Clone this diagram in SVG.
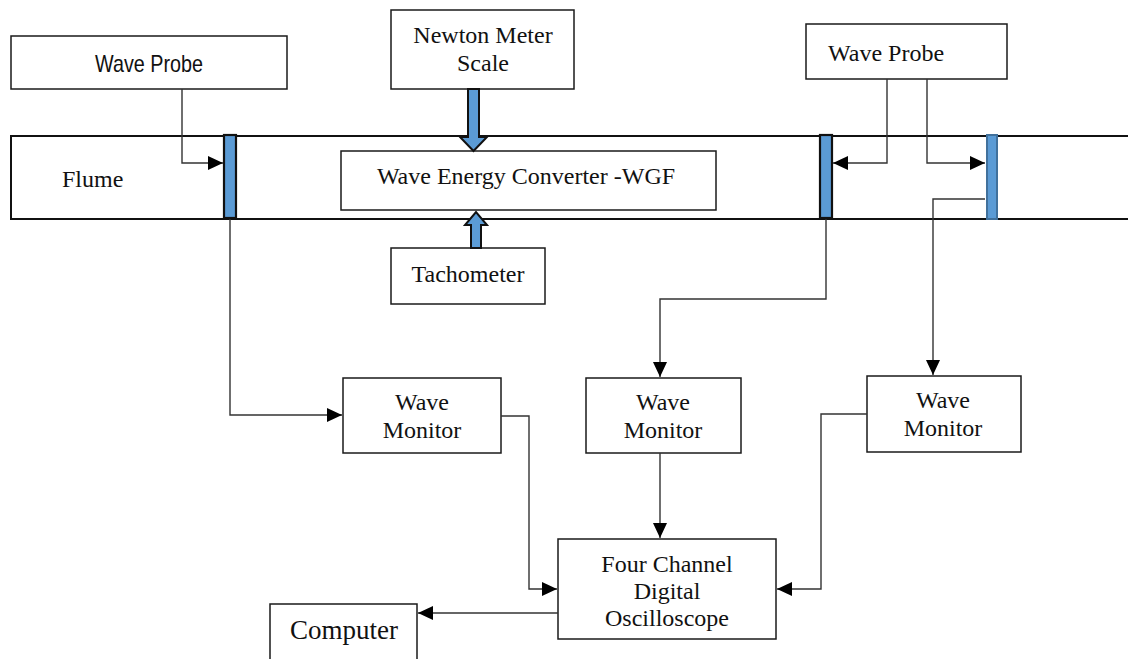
<svg xmlns="http://www.w3.org/2000/svg" width="1128" height="659" viewBox="0 0 1128 659">
<style>
.box{fill:#fff;stroke:#1a1a1a;stroke-width:1.5}
.t{font-family:"Liberation Serif","Times New Roman",serif;font-size:24px;fill:#111}
.s{font-family:"Liberation Sans",Arial,sans-serif;font-size:24px;fill:#111}
.c{fill:none;stroke:#333;stroke-width:1.4}
.bar{fill:#5b9bd5;stroke:#111;stroke-width:2.2}
.bar2{fill:#5b9bd5;stroke:#41719c;stroke-width:2}
.blk{fill:#5b9bd5;stroke:#111;stroke-width:2}
</style>
<defs>
<marker id="ah" markerUnits="userSpaceOnUse" markerWidth="16" markerHeight="15" refX="15" refY="7" orient="auto">
<path d="M0,0 L15,7 L0,14 z" fill="#000"/>
</marker>
</defs>
<rect width="1128" height="659" fill="#fff"/>

<g id="flume">
<rect x="11" y="136" width="1130" height="83" fill="none" stroke="#111" stroke-width="2"/>
<text class="t" x="62" y="187">Flume</text>
</g>

<g id="wave-probe-left">
<rect class="box" x="11" y="36" width="276" height="53"/>
<text class="s" x="149" y="72" text-anchor="middle" textLength="108" lengthAdjust="spacingAndGlyphs">Wave Probe</text>
</g>

<g id="newton-meter">
<rect class="box" x="391" y="10" width="183" height="79"/>
<text class="t" x="483" y="43" text-anchor="middle">Newton Meter</text>
<text class="t" x="483" y="71" text-anchor="middle">Scale</text>
</g>

<g id="wave-probe-right">
<rect class="box" x="806" y="24" width="201" height="55"/>
<text class="t" x="828" y="61">Wave Probe</text>
</g>

<g id="wec">
<rect class="box" x="341" y="151" width="375" height="59"/>
<text class="t" x="526" y="184" text-anchor="middle">Wave Energy Converter -WGF</text>
</g>

<g id="tachometer">
<rect class="box" x="391" y="248" width="154" height="56"/>
<text class="t" x="468" y="282" text-anchor="middle">Tachometer</text>
</g>

<g id="probe-bar-1"><rect class="bar" x="224" y="135" width="12" height="83"/></g>
<g id="probe-bar-2"><rect class="bar" x="820" y="135" width="12" height="83"/></g>
<g id="probe-bar-3"><rect class="bar2" x="987" y="135" width="10" height="84"/></g>

<g id="wave-monitor-1">
<rect class="box" x="343" y="378" width="158" height="75"/>
<text class="t" x="422" y="410" text-anchor="middle">Wave</text>
<text class="t" x="422" y="438" text-anchor="middle">Monitor</text>
</g>

<g id="wave-monitor-2">
<rect class="box" x="586" y="378" width="155" height="75"/>
<text class="t" x="663" y="410" text-anchor="middle">Wave</text>
<text class="t" x="663" y="438" text-anchor="middle">Monitor</text>
</g>

<g id="wave-monitor-3">
<rect class="box" x="867" y="376" width="154" height="76"/>
<text class="t" x="943" y="408" text-anchor="middle">Wave</text>
<text class="t" x="943" y="436" text-anchor="middle">Monitor</text>
</g>

<g id="oscilloscope">
<rect class="box" x="558" y="539" width="218" height="100"/>
<text class="t" x="667" y="572" text-anchor="middle">Four Channel</text>
<text class="t" x="667" y="599" text-anchor="middle">Digital</text>
<text class="t" x="667" y="626" text-anchor="middle">Oscilloscope</text>
</g>

<g id="computer">
<rect class="box" x="270" y="604" width="147" height="70"/>
<text class="t" x="344" y="639" text-anchor="middle" style="font-size:27px">Computer</text>
</g>

<g id="connectors">
<path class="c" d="M182,89 V163 H223" marker-end="url(#ah)"/>
<path class="c" d="M887,79 V163 H833" marker-end="url(#ah)"/>
<path class="c" d="M927,79 V163 H985" marker-end="url(#ah)"/>
<path class="c" d="M230,219 V415 H342" marker-end="url(#ah)"/>
<path class="c" d="M826,219 V299 H660 V377" marker-end="url(#ah)"/>
<path class="c" d="M985,199 H933 V375" marker-end="url(#ah)"/>
<path class="c" d="M501,416 H529 V589 H557" marker-end="url(#ah)"/>
<path class="c" d="M660,453 V538" marker-end="url(#ah)"/>
<path class="c" d="M867,414 H821 V589 H777" marker-end="url(#ah)"/>
<path class="c" d="M558,613 H418" marker-end="url(#ah)"/>
<polygon class="blk" points="468,89 479,89 479,137 487,137 473.5,151 460,137 468,137"/>
<polygon class="blk" points="471,248 481,248 481,225 487,225 476,212 465,225 471,225"/>
</g>
</svg>
